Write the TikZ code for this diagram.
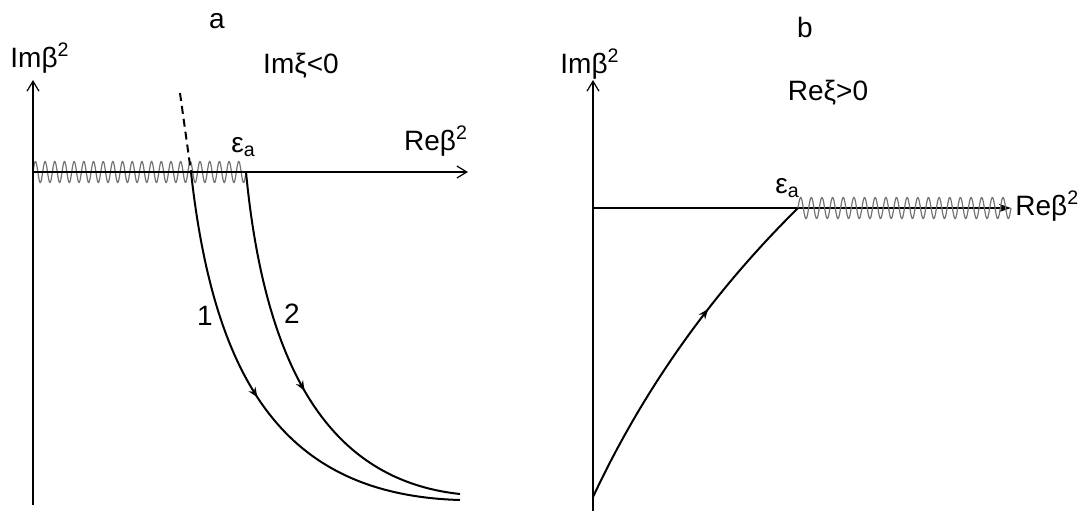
\documentclass[tikz,border=0pt]{standalone}
\usepackage{fontspec}
\setmainfont{Liberation Sans}
\usepackage{tikz}
\usetikzlibrary{arrows.meta, decorations.markings}

\begin{document}
\begin{tikzpicture}[x=0.5pt, y=-0.5pt, font=\fontsize{14}{16}\selectfont,
  ax/.style={line width=0.6pt, -{Straight Barb[length=5pt, width=6pt]}},
  cv/.style={line width=1pt},
  wv/.style={black!55, line width=0.6pt},
  lb/.style={inner sep=0pt, anchor=base},
  mk/.style={postaction={decorate}, decoration={markings, mark=at position #1 with {\arrow{Stealth[length=5pt, width=4pt]}}}}]
  \useasboundingbox (0,0) rectangle (1078,511);
  % panel a
  \coordinate (oa) at (33,172); \coordinate (ya) at (33,80); \coordinate (ba) at (33,505);
  \coordinate (xa) at (468,172);
  \coordinate (s1) at (191,172); \coordinate (e1) at (460,500);
  \coordinate (s2) at (246,172); \coordinate (e2) at (460,494);
  \coordinate (dt) at (180,93);
  \draw[wv] plot[domain=33:246, samples=500] (\x, {172 - 10.5*sin((\x-33)*37.183)});
  \draw[ax] (ba) -- (ya);
  \draw[ax] (oa) -- (xa);
  \draw[cv, dashed, dash pattern=on 4pt off 2.5pt] (dt) -- (s1);
  \draw[cv, mk=0.5] (s1) .. controls (215,390) and (290,495) .. (e1);
  \draw[cv, mk=0.54] (s2) .. controls (265,370) and (330,480) .. (e2);
  \node[lb] (ta) at (217,28) {a};
  \node[lb] (ima) at (40,67) {Imβ\textsuperscript{2}};
  \node[lb] (cona) at (301,73) {Imξ<0};
  \node[lb] (rea) at (436,150) {Reβ\textsuperscript{2}};
  \node[lb, anchor=base west] (epsa) at (231,152) {ε\textsubscript{a}};
  \node[lb] (n1) at (205,325) {1};
  \node[lb] (n2) at (292,323) {2};
  % panel b
  \coordinate (ob) at (593,208); \coordinate (yb) at (593,80); \coordinate (bb) at (593,511);
  \coordinate (xb) at (1011,208);
  \coordinate (sb) at (593,497); \coordinate (eb) at (798,208);
  \draw[ax] (bb) -- (yb);
  \draw[line width=0.6pt, -{Stealth[length=6pt, width=4pt]}] (ob) -- (xb);
  \draw[wv] plot[domain=798:1011, samples=500] (\x, {208 - 10.5*sin((\x-798)*33.803)});
  \draw[cv, mk=0.62] (sb) .. controls (644,388) and (713,292) .. (eb);
  \node[lb] (tb) at (805,37) {b};
  \node[lb] (imb) at (590,73) {Imβ\textsuperscript{2}};
  \node[lb] (conb) at (828,100) {Reξ>0};
  \node[lb, anchor=base west] (reb) at (1015,215) {Reβ\textsuperscript{2}};
  \node[lb, anchor=base west] (epsb) at (775,193) {ε\textsubscript{a}};
\end{tikzpicture}
\end{document}
